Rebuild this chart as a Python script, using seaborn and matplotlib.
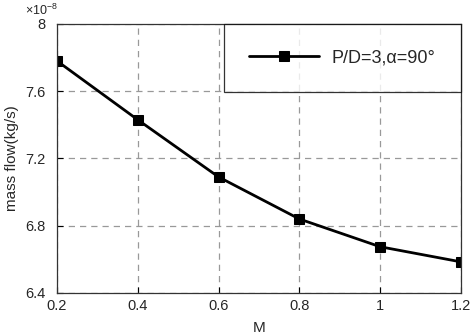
import matplotlib
matplotlib.use("Agg")
import matplotlib.pyplot as plt
import seaborn as sns
import pandas as pd

M = [0.2, 0.4, 0.6, 0.8, 1.0, 1.2]
mass_flow = [7.78, 7.43, 7.09, 6.84, 6.675, 6.585]  # x 1e-8 kg/s
label = "P/D=3,\u03b1=90\u00b0"
xticks = [0.2, 0.4, 0.6, 0.8, 1.0, 1.2]
xtick_labels = ["0.2", "0.4", "0.6", "0.8", "1", "1.2"]
yticks = [6.4, 6.8, 7.2, 7.6, 8.0]
ytick_labels = ["6.4", "6.8", "7.2", "7.6", "8"]

sns.set_style("white")
plt.rcParams['font.family'] = ['Liberation Sans', 'DejaVu Sans']
plt.rcParams['mathtext.fontset'] = 'custom'
plt.rcParams['mathtext.rm'] = 'Liberation Sans'

df = pd.DataFrame({"M": M, "flow": mass_flow, "s": label})

fig = plt.figure(figsize=(4.72, 3.35), dpi=100)
ax = fig.add_axes([0.1208, 0.1254, 0.8559, 0.8030])
sns.lineplot(data=df, x="M", y="flow", hue="s", palette=["black"], marker="s",
             markersize=7, linewidth=2, markeredgecolor="black", ax=ax)
ax.set_xlim(0.2, 1.2)
ax.set_ylim(6.4, 8.0)
ax.set_xticks(xticks)
ax.set_xticklabels(xtick_labels)
ax.set_yticks(yticks)
ax.set_yticklabels(ytick_labels)
ax.grid(True, color="#999999", linestyle=(0, (5, 4)), linewidth=0.9)
ax.tick_params(direction="in", length=4, labelsize=10.5, color="black",
               bottom=True, left=True)
ax.tick_params(axis="x", pad=4)
ax.tick_params(axis="y", pad=8)
for sp in ax.spines.values():
    sp.set_color("#333333")
    sp.set_linewidth(0.9)
ax.set_xlabel("M", fontsize=11, labelpad=6)
ax.set_ylabel("mass flow(kg/s)", fontsize=11, labelpad=5)
fig.text(0.053, 0.968, r"$\times$10$^{-8}$", fontsize=9, ha="left", va="center")

leg = ax.legend(loc="upper right", fontsize=13, frameon=True, fancybox=False,
                edgecolor="black", borderpad=1.4, handlelength=3.9,
                borderaxespad=0, handletextpad=0.7)
leg.get_frame().set_linewidth(0.9)
leg.set_title(None)

fig.savefig("out.png", dpi=100)
